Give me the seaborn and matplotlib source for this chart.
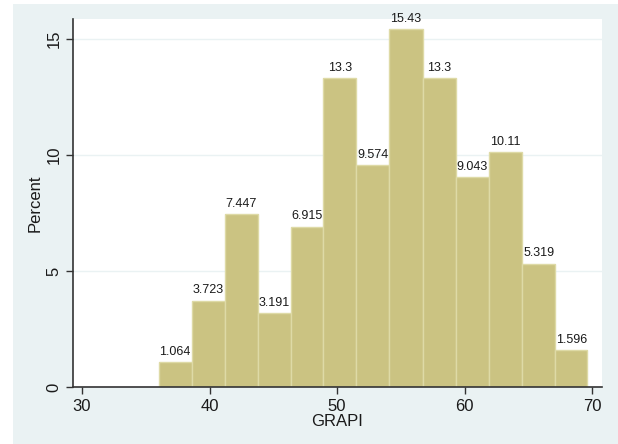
import matplotlib
matplotlib.use("Agg")
from matplotlib import pyplot as plt
from matplotlib.patches import Rectangle
import seaborn as sns
import numpy as np

# histogram of GRAPI, bars
bin_edges = [36.0, 38.6, 41.2, 43.8, 46.4, 48.9, 51.5, 54.1, 56.7, 59.3, 61.9, 64.5, 67.1, 69.6]
percent = [1.064, 3.723, 7.447, 3.191, 6.915, 13.3, 9.574, 15.43, 13.3, 9.043, 10.11, 5.319, 1.596]
bar_labels = ["1.064", "3.723", "7.447", "3.191", "6.915", "13.3", "9.574",
              "15.43", "13.3", "9.043", "10.11", "5.319", "1.596"]
x_ticks = [30, 40, 50, 60, 70]
y_ticks = [0, 5, 10, 15]

sns.set_style("white")
plt.rcParams['font.family'] = ['Liberation Sans', 'DejaVu Sans']

fig = plt.figure(figsize=(6.18, 4.44), dpi=100, facecolor="white")
fig.patches.append(Rectangle((13 / 618, 0), 1, 1 - 4 / 444, transform=fig.transFigure,
                             facecolor="#EAF2F3", edgecolor="none", zorder=-5))
ax = fig.add_axes([0.118, 0.1284, 0.856, 0.8288])
ax.set_zorder(2)
ax.set_facecolor("white")

centers = [(bin_edges[i] + bin_edges[i + 1]) / 2 for i in range(len(percent))]
sns.histplot(x=centers, weights=percent, bins=bin_edges, ax=ax,
             color="#CBC382", alpha=1, edgecolor="#DEDAA6", linewidth=1.0, zorder=2)

for c, p, lab in zip(centers, percent, bar_labels):
    ax.annotate(lab, (c, p), xytext=(0, 3), textcoords="offset points",
                ha="center", va="bottom", fontsize=9, color="#1a1a1a", zorder=3,
                annotation_clip=False)

ax.set_xlim(29.29, 70.76)
ax.set_ylim(0, 15.86)
ax.set_xticks(x_ticks)
ax.set_yticks(y_ticks)
ax.yaxis.grid(True, color="#EAF2F3", linewidth=1.0, zorder=0)
ax.set_axisbelow(True)

for s in ["top", "right"]:
    ax.spines[s].set_visible(False)
for s in ["left", "bottom"]:
    ax.spines[s].set_color("#333333")
    ax.spines[s].set_linewidth(1.2)

ax.tick_params(axis="x", direction="out", length=5, width=1, color="#333333",
               pad=3.5, labelsize=12, labelcolor="#1a1a1a", bottom=True)
ax.tick_params(axis="y", direction="out", length=5, width=1, color="#333333",
               pad=3, labelsize=12, labelcolor="#1a1a1a", left=True)
for t in ax.get_yticklabels():
    t.set_rotation(90)
    t.set_va("center")

ax.set_xlabel("GRAPI", fontsize=12, color="#1a1a1a")
ax.set_ylabel("Percent", fontsize=12, color="#1a1a1a")
ax.xaxis.set_label_coords(0.5, -0.095)
ax.xaxis.label.set_va("center")
ax.yaxis.set_label_coords(-0.072, 0.5)
ax.yaxis.label.set_va("center")

fig.savefig("out.png", dpi=100, facecolor=fig.get_facecolor())
